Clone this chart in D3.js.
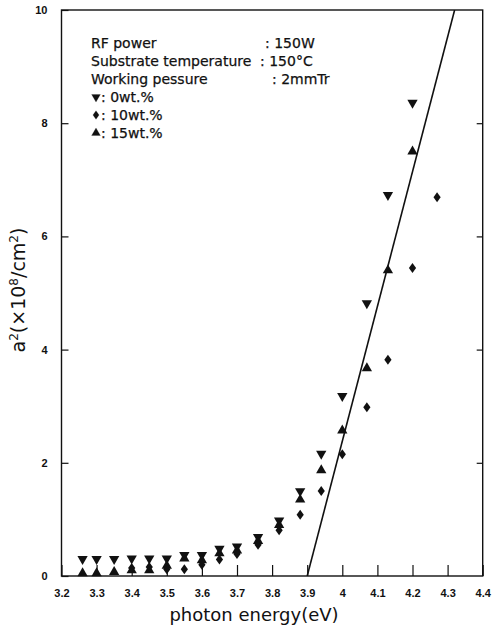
<!DOCTYPE html>
<html>
<head>
<meta charset="utf-8">
<script src="https://cdn.jsdelivr.net/npm/d3@7"></script>
<style>
  body { margin: 0; background: #fff; }
  svg { display: block; font-family: "Liberation Sans", Arial, sans-serif; }
  .tick-label { font-size: 11px; font-weight: bold; fill: #111; }
  .legend { font-family: "DejaVu Sans", sans-serif; font-size: 14px; fill: #111; stroke: #111; stroke-width: 0.25px; }
  .title { font-family: "DejaVu Sans", sans-serif; fill: #111; }
</style>
</head>
<body>
<div id="chart"></div>
<script>
// Data
const energy0 = [3.26, 3.30, 3.35, 3.40, 3.45, 3.50, 3.55, 3.60, 3.65, 3.70, 3.76, 3.82, 3.88, 3.94, 4.00, 4.07, 4.13, 4.20];
const wt0     = [0.30, 0.30, 0.30, 0.31, 0.31, 0.31, 0.37, 0.37, 0.48, 0.52, 0.69, 0.98, 1.50, 2.16, 3.18, 4.82, 6.73, 8.36];
const energy15 = energy0;
const wt15    = [0.05, 0.05, 0.07, 0.10, 0.10, 0.18, 0.31, 0.28, 0.40, 0.45, 0.62, 0.90, 1.35, 1.87, 2.57, 3.67, 5.40, 7.50];
const energy10 = [3.40, 3.45, 3.50, 3.55, 3.60, 3.65, 3.70, 3.76, 3.82, 3.88, 3.94, 4.00, 4.07, 4.13, 4.20, 4.27];
const wt10    = [0.14, 0.16, 0.12, 0.12, 0.20, 0.29, 0.39, 0.55, 0.81, 1.08, 1.50, 2.15, 2.98, 3.82, 5.44, 6.69];
// extrapolation line for the band gap
const fitX = [3.9, 4.32];
const fitY = [0, 10];

const xTicks = [3.2, 3.3, 3.4, 3.5, 3.6, 3.7, 3.8, 3.9, 4, 4.1, 4.2, 4.3, 4.4];
const yTicks = [0, 2, 4, 6, 8, 10];
const legendRows = [
    ["RF  power", ": 150W", 265],
    ["Substrate temperature", ": 150°C", 260],
    ["Working pessure", ": 2mmTr", 272]
];

// Set dimensions
const W = 492, H = 626;
const margin = { top: 10, right: 9.3, bottom: 50, left: 61.5 };
const width = W - margin.left - margin.right;
const height = H - margin.top - margin.bottom;

const svg = d3.select("#chart")
    .append("svg")
    .attr("width", W)
    .attr("height", H);

const g = svg.append("g")
    .attr("transform", `translate(${margin.left},${margin.top})`);

const x = d3.scaleLinear().domain([3.2, 4.4]).range([0, width]);
const y = d3.scaleLinear().domain([0, 10]).range([height, 0]);

// Frame
g.append("rect")
    .attr("width", width)
    .attr("height", height)
    .attr("fill", "none")
    .attr("stroke", "#111")
    .attr("stroke-width", 1.4);

// X axis (ticks pointing inward)
g.append("g")
    .attr("transform", `translate(0,${height})`)
    .call(d3.axisBottom(x).tickValues(xTicks).tickSize(-11).tickPadding(13).tickFormat(d3.format("")))
    .call(a => a.select(".domain").remove())
    .call(a => a.selectAll("line").attr("stroke", "#111").attr("stroke-width", 1.2))
    .call(a => a.selectAll("text").attr("class", "tick-label").attr("fill", null));

// Y axis left
g.append("g")
    .call(d3.axisLeft(y).tickValues(yTicks).tickSize(-7).tickPadding(14).tickFormat(d3.format("")))
    .call(a => a.select(".domain").remove())
    .call(a => a.selectAll("line").attr("stroke", "#111").attr("stroke-width", 1.2))
    .call(a => a.selectAll("text").attr("class", "tick-label").attr("fill", null));

// Y axis right, ticks only
g.append("g")
    .attr("transform", `translate(${width},0)`)
    .call(d3.axisRight(y).tickValues(yTicks.slice(1, -1)).tickSize(-6).tickFormat(""))
    .call(a => a.select(".domain").remove())
    .call(a => a.selectAll("line").attr("stroke", "#111").attr("stroke-width", 1.2));

// Axis titles
svg.append("text")
    .attr("class", "title")
    .attr("x", 254)
    .attr("y", 621)
    .attr("text-anchor", "middle")
    .style("font-size", "18px")
    .text("photon energy(eV)");

const yl = svg.append("text")
    .attr("class", "title")
    .attr("transform", `translate(25,290) rotate(-90)`)
    .attr("text-anchor", "middle")
    .style("font-size", "19px");
yl.append("tspan").text("a");
yl.append("tspan").attr("dy", -7).style("font-size", "12px").text("2");
yl.append("tspan").attr("dy", 7).text("(×10");
yl.append("tspan").attr("dy", -7).style("font-size", "12px").text("8");
yl.append("tspan").attr("dy", 7).text("/cm");
yl.append("tspan").attr("dy", -7).style("font-size", "12px").text("2");
yl.append("tspan").attr("dy", 7).text(")");

// Fit line, clipped to the frame
g.append("clipPath").attr("id", "clip")
    .append("rect").attr("width", width).attr("height", height);

g.append("line")
    .attr("clip-path", "url(#clip)")
    .attr("x1", x(fitX[0])).attr("y1", y(fitY[0]))
    .attr("x2", x(fitX[1])).attr("y2", y(fitY[1]))
    .attr("stroke", "#111")
    .attr("stroke-width", 1.6);

// Markers
const tri = d3.symbol().type(d3.symbolTriangle).size(46)();
const diamond = "M0,-5L3.6,0L0,5L-3.6,0Z";

g.selectAll(".m0")
    .data(d3.zip(energy0, wt0))
    .enter()
    .append("path")
    .attr("class", "m0")
    .attr("d", tri)
    .attr("fill", "#111")
    .attr("transform", d => `translate(${x(d[0])},${y(d[1])}) rotate(180)`);

g.selectAll(".m15")
    .data(d3.zip(energy15, wt15))
    .enter()
    .append("path")
    .attr("class", "m15")
    .attr("d", tri)
    .attr("fill", "#111")
    .attr("transform", d => `translate(${x(d[0])},${y(d[1])})`);

g.selectAll(".m10")
    .data(d3.zip(energy10, wt10))
    .enter()
    .append("path")
    .attr("class", "m10")
    .attr("d", diamond)
    .attr("fill", "#111")
    .attr("transform", d => `translate(${x(d[0])},${y(d[1])})`);

// Legend block
const lg = svg.append("g").attr("class", "legend");
legendRows.forEach((r, i) => {
    const ty = 48 + i * 18;
    lg.append("text").attr("x", 91).attr("y", ty).text(r[0]);
    lg.append("text").attr("x", r[2]).attr("y", ty).text(r[1]);
});

const keyRows = [
    { d: tri, rot: 180, label: ": 0wt.%" },
    { d: diamond, rot: 0, label: ": 10wt.%" },
    { d: tri, rot: 0, label: ": 15wt.%" }
];
keyRows.forEach((k, i) => {
    const ty = 102 + i * 18;
    lg.append("path")
        .attr("d", k.d)
        .attr("fill", "#111")
        .attr("transform", `translate(96,${ty - 5}) rotate(${k.rot}) scale(0.85)`);
    lg.append("text").attr("x", 101).attr("y", ty).text(k.label);
});
</script>
</body>
</html>
